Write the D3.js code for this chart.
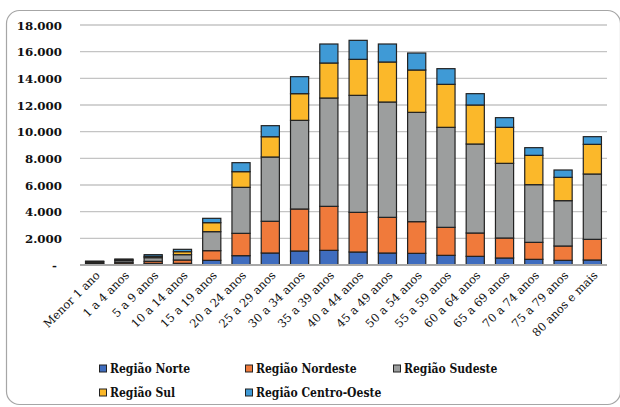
<!DOCTYPE html>
<html><head><meta charset="utf-8">
<script src="https://cdn.jsdelivr.net/npm/d3@7"></script>
<style>
body{margin:0;background:#fff;}
svg{display:block;}
text{font-family:"DejaVu Serif",serif;}
</style></head>
<body><svg id="c" width="620" height="407"></svg>
<script>
const categories = ["Menor 1 ano","1 a 4 anos","5 a 9 anos","10 a 14 anos","15 a 19 anos","20 a 24 anos","25 a 29 anos","30 a 34 anos","35 a 39 anos","40 a 44 anos","45 a 49 anos","50 a 54 anos","55 a 59 anos","60 a 64 anos","65 a 69 anos","70 a 74 anos","75 a 79 anos","80 anos e mais"];
const seriesNames = ["Região Norte","Região Nordeste","Região Sudeste","Região Sul","Região Centro-Oeste"];
const norte    = [50, 75, 125, 125, 350, 700, 900, 1050, 1100, 975, 900, 875, 725, 650, 525, 425, 350, 375];
const nordeste = [70, 100, 150, 250, 725, 1675, 2380, 3150, 3300, 2975, 2675, 2375, 2100, 1750, 1500, 1275, 1075, 1550];
const sudeste  = [100, 150, 275, 400, 1425, 3450, 4820, 6650, 8125, 8775, 8650, 8200, 7500, 6675, 5600, 4325, 3400, 4900];
const sul      = [40, 75, 100, 225, 675, 1175, 1520, 2000, 2625, 2700, 3000, 3175, 3225, 2925, 2700, 2200, 1750, 2225];
const centroOeste = [30, 50, 125, 175, 325, 675, 830, 1275, 1425, 1425, 1350, 1275, 1175, 850, 725, 575, 550, 575];
const yTicks = [0, 2000, 4000, 6000, 8000, 10000, 12000, 14000, 16000, 18000];
const yTickLabels = ["-", "2.000", "4.000", "6.000", "8.000", "10.000", "12.000", "14.000", "16.000", "18.000"];
const colors = ["#3f6dbf", "#f07a3b", "#9c9e9e", "#fbb82a", "#3f9ad6"];

const allSeries = [norte, nordeste, sudeste, sul, centroOeste];
const table = categories.map((c, i) => {
  const o = {cat: c};
  seriesNames.forEach((s, k) => o[s] = allSeries[k][i]);
  return o;
});

const svg = d3.select("#c");
svg.append("rect").attr("x", 6.5).attr("y", 10.5).attr("width", 614).attr("height", 394)
  .attr("rx", 13).attr("fill", "#fff").attr("stroke", "#a6a6a6").attr("stroke-width", 1.2);

const x = d3.scaleBand().domain(categories).range([80, 607]).paddingInner(0.38).paddingOuter(0.19);
const y = d3.scaleLinear().domain([0, 18000]).range([265, 25]);

// gridlines
svg.append("g").selectAll("line").data(yTicks.slice(1)).join("line")
  .attr("x1", 80).attr("x2", 607).attr("y1", d => y(d)).attr("y2", d => y(d))
  .attr("stroke", "#c4c4c4").attr("stroke-width", 1.3);

// y axis labels
const yAxis = d3.axisLeft(y).tickValues(yTicks).tickFormat((d, i) => yTickLabels[i]).tickSize(0).tickPadding(0);
const gy = svg.append("g").attr("transform", "translate(62,0)").call(yAxis);
gy.select(".domain").remove();
gy.selectAll("text").attr("font-family", "DejaVu Serif").attr("font-weight", "bold")
  .attr("font-size", 11.8).attr("fill", "#111").attr("dy", "0.35em");
gy.selectAll(".tick").filter(d => d === 0).select("text").attr("x", -5);

// stacked bars
const stack = d3.stack().keys(seriesNames)(table);
svg.append("g").selectAll("g").data(stack).join("g")
  .attr("fill", (d, i) => colors[i])
  .selectAll("rect").data(d => d).join("rect")
  .attr("x", d => x(d.data.cat))
  .attr("width", x.bandwidth())
  .attr("y", d => y(d[1]))
  .attr("height", d => y(d[0]) - y(d[1]))
  .attr("stroke", "#222").attr("stroke-width", 1.2);

// x axis
const xAxis = d3.axisBottom(x).tickSize(0).tickPadding(0);
const gx = svg.append("g").attr("transform", "translate(0,265)").call(xAxis);
gx.select(".domain").attr("stroke", "#a8a8a8").attr("stroke-width", 2).attr("d", "M80,0H607");
gx.selectAll("text").attr("font-family", "DejaVu Serif").attr("font-size", 11.5).attr("fill", "#111")
  .attr("text-anchor", "end").attr("dy", 0).attr("y", 0)
  .attr("transform", "translate(6,11) rotate(-45)");

// legend
const legPos = [[99, 369], [245, 369], [393, 369], [99, 393], [245, 393]];
const leg = svg.append("g").selectAll("g").data(seriesNames).join("g")
  .attr("transform", (d, i) => `translate(${legPos[i][0]},${legPos[i][1]})`);
leg.append("rect").attr("x", 0.5).attr("y", -4).attr("width", 7).attr("height", 7)
  .attr("fill", (d, i) => colors[i]).attr("stroke", "#222").attr("stroke-width", 1);
leg.append("text").attr("x", 11).attr("y", 0).attr("dy", "0.35em")
  .attr("font-weight", "bold").attr("font-size", 12).attr("font-stretch", "condensed").attr("fill", "#111")
  .text(d => d);
</script></body></html>
